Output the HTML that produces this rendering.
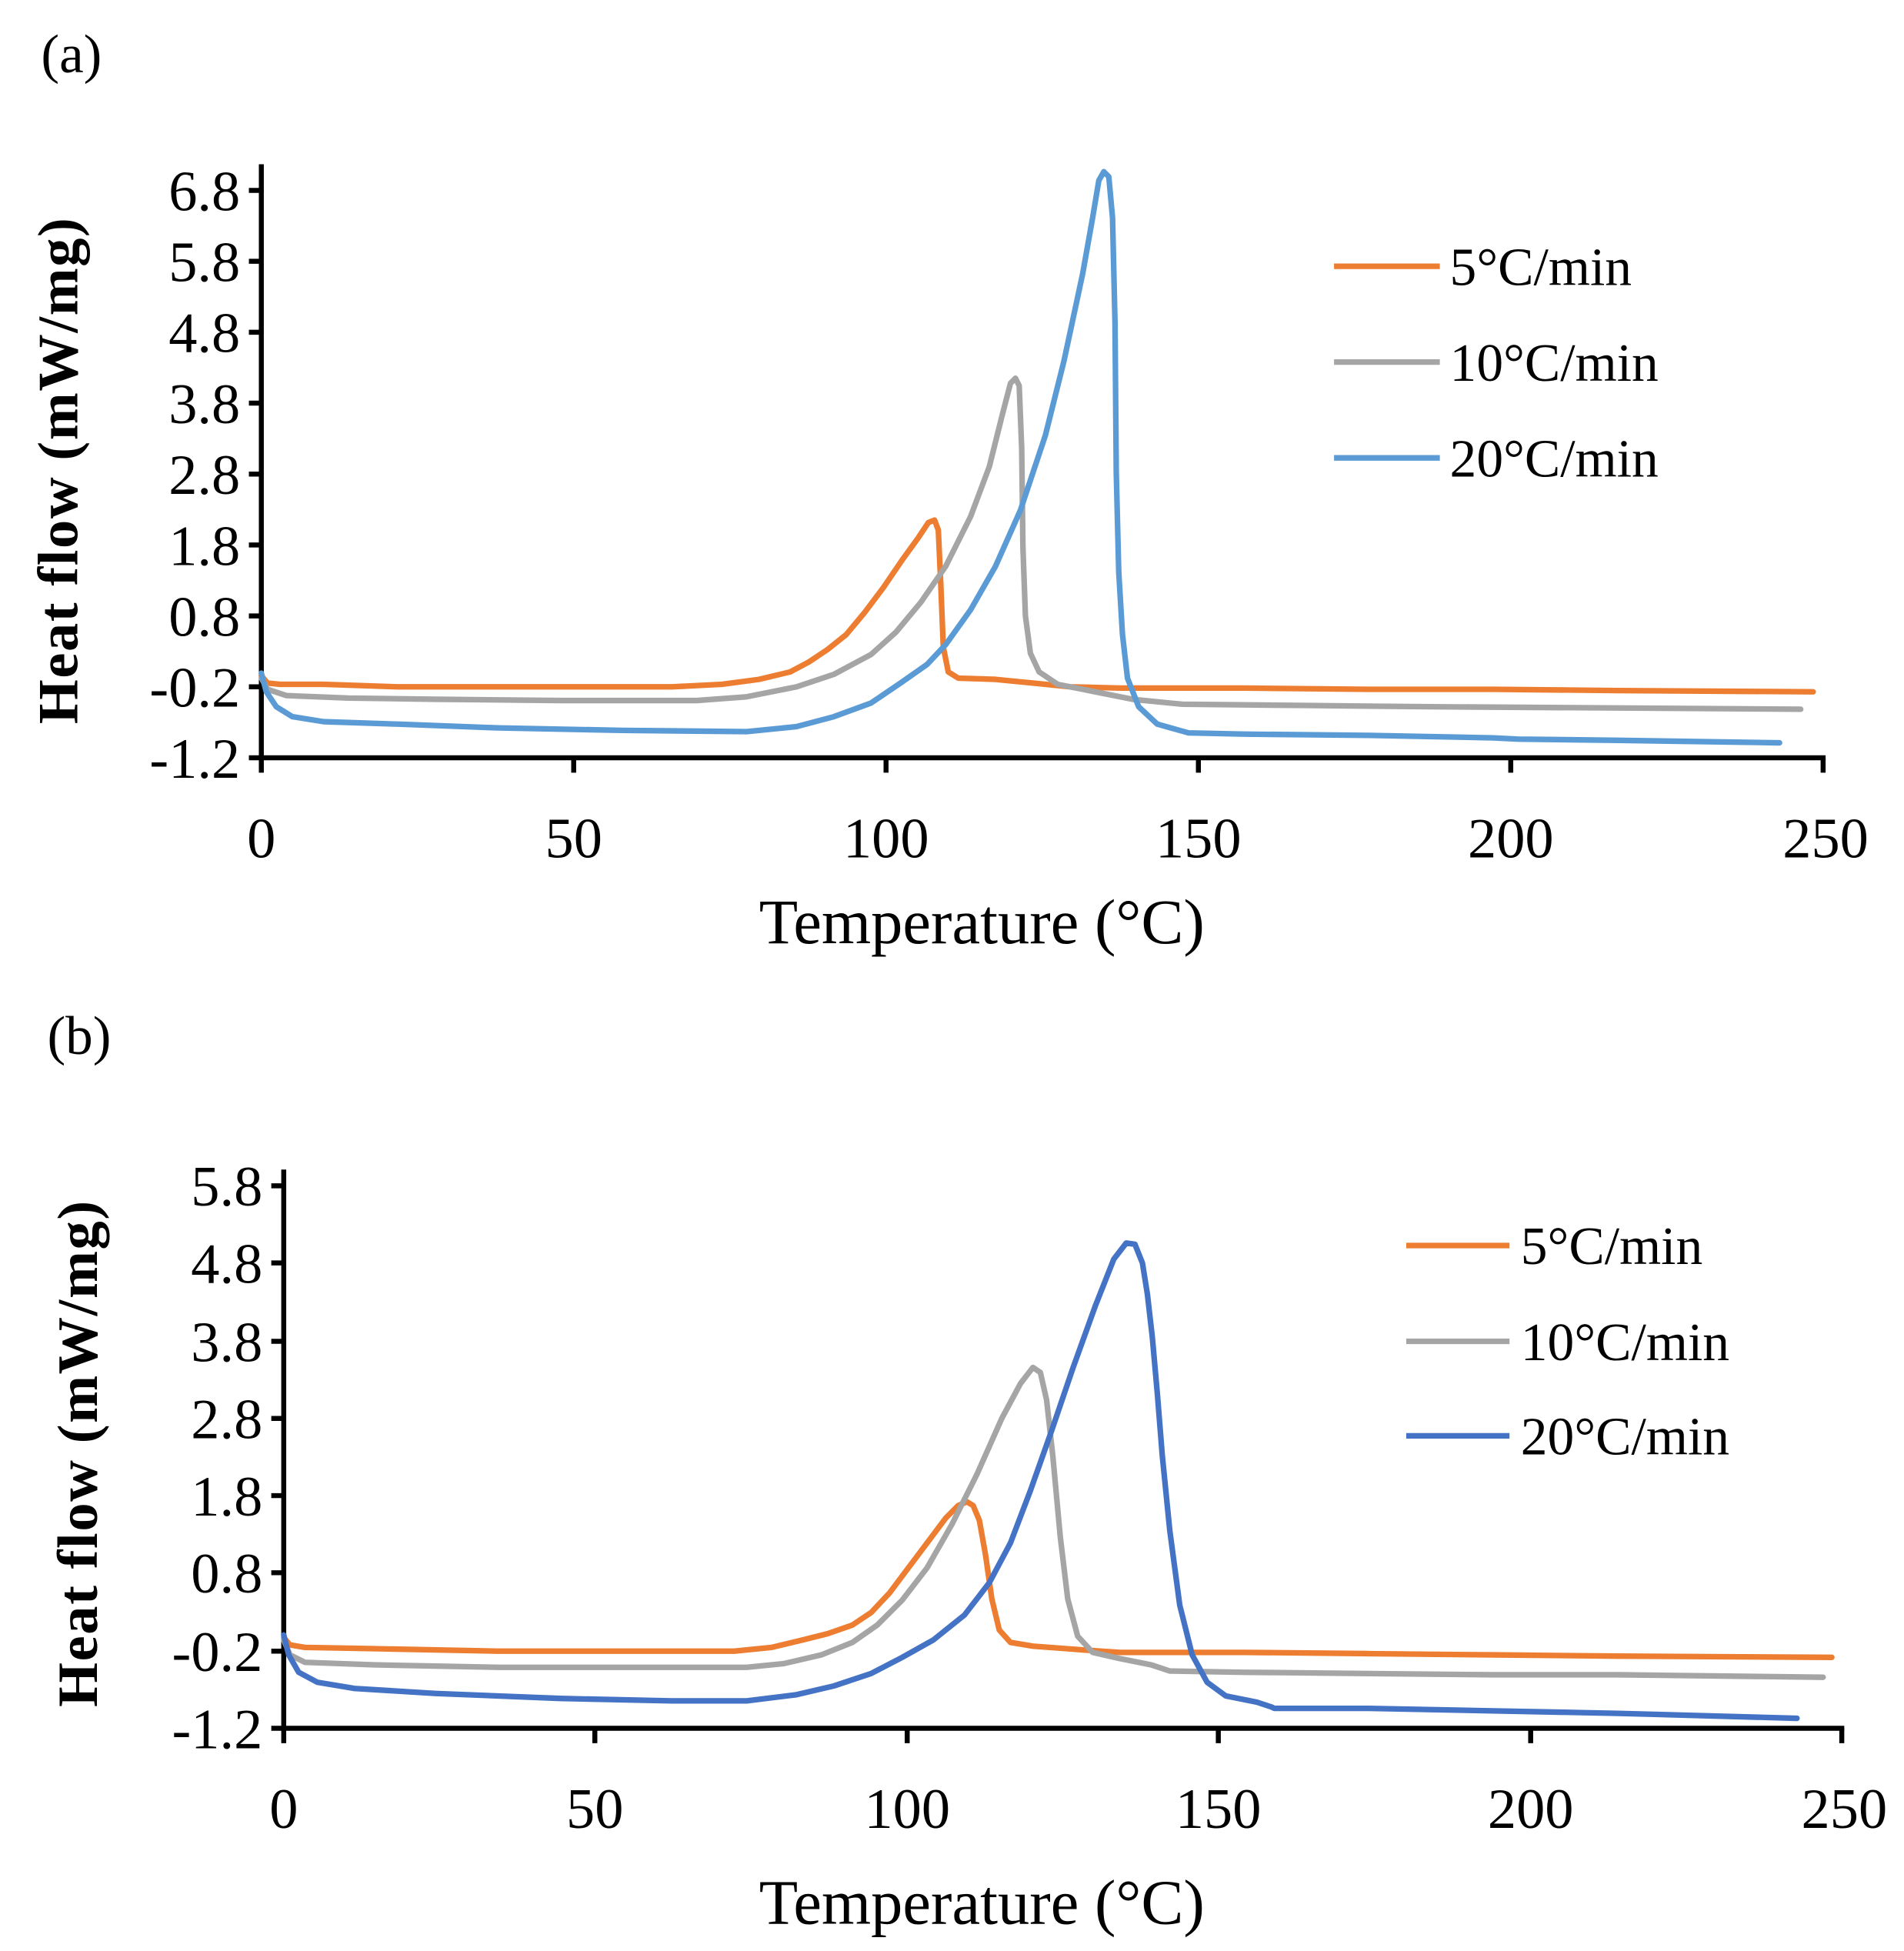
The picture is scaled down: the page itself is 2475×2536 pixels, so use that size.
<!DOCTYPE html>
<html><head><meta charset="utf-8"><style>
html,body{margin:0;padding:0;background:#fff;}
svg{display:block;}
text{font-family:"Liberation Serif",serif;fill:#000;}
</style></head><body>
<svg width="2475" height="2536" viewBox="0 0 1530 1568" preserveAspectRatio="none" xmlns="http://www.w3.org/2000/svg">
<rect width="1530" height="1568" fill="#fff"/>
<!-- Panel a -->
<text x="33" y="58" font-size="44">(a)</text>
<g stroke="#000" stroke-width="4" fill="none">
<line x1="210" y1="132" x2="210" y2="611"/>
<line x1="208" y1="609" x2="1467" y2="609"/>
<path d="M200 153H210M200 210H210M200 267H210M200 324H210M200 381H210M200 438H210M200 495H210M200 552H210M200 609H210"/>
<path d="M210 609V621M461 609V621M712 609V621M963 609V621M1214 609V621M1465 609V621"/>
</g>
<g font-size="46" text-anchor="end">
<text x="193" y="169">6.8</text><text x="193" y="226">5.8</text><text x="193" y="283">4.8</text><text x="193" y="340">3.8</text><text x="193" y="397">2.8</text><text x="193" y="454">1.8</text><text x="193" y="511">0.8</text><text x="193" y="568">-0.2</text><text x="193" y="625">-1.2</text>
</g>
<g font-size="46" text-anchor="middle">
<text x="210" y="689">0</text><text x="461" y="689">50</text><text x="712" y="689">100</text><text x="963" y="689">150</text><text x="1214" y="689">200</text><text x="1467" y="689">250</text>
</g>
<text x="789" y="758" font-size="51" text-anchor="middle">Temperature (°C)</text>
<text transform="translate(62,378) rotate(-90)" font-size="46" font-weight="bold" text-anchor="middle" letter-spacing="1">Heat flow (mW/mg)</text>
<g fill="none" stroke-width="4.5" stroke-linejoin="round" stroke-linecap="round">
<polyline stroke="#ED7D31" points="210,543 215,549 225,550 260,550 320,552 400,552 480,552 540,552 580,550 610,546 635,540 650,532 665,522 680,510 695,492 710,472 725,450 738,432 746,420 751,418 754,426 756,470 758,520 762,540 770,545 800,546 830,549 860,552 900,553 1000,553 1100,554 1200,554 1300,555 1457,556"/>
<polyline stroke="#A5A5A5" points="210,545 215,554 230,559 280,561 350,562 450,563 560,563 600,560 640,552 670,542 700,526 720,508 740,484 760,455 780,415 795,375 805,335 812,308 816,304 819,310 821,360 822,440 824,495 828,525 835,540 850,550 880,556 910,562 950,566 1050,567 1150,568 1300,569 1447,570"/>
<polyline stroke="#5B9BD5" points="210,541 214,556 222,568 235,576 260,580 320,582 400,585 500,587 600,588 640,584 670,576 700,565 725,548 745,534 760,518 780,490 800,455 820,410 840,350 855,290 870,220 878,175 883,145 887,138 891,142 894,175 896,260 897,380 899,460 902,510 906,545 915,568 930,582 955,589 1000,590 1100,591 1200,593 1220,594 1300,595 1430,597"/>
</g>
<g stroke-width="4.5" fill="none">
<line x1="1072" y1="214" x2="1157" y2="214" stroke="#ED7D31"/>
<line x1="1072" y1="291" x2="1157" y2="291" stroke="#A5A5A5"/>
<line x1="1072" y1="368" x2="1157" y2="368" stroke="#5B9BD5"/>
</g>
<g font-size="43">
<text x="1165" y="229">5°C/min</text><text x="1165" y="306">10°C/min</text><text x="1165" y="383">20°C/min</text>
</g>

<!-- Panel b -->
<text x="38" y="847" font-size="44">(b)</text>
<g stroke="#000" stroke-width="4" fill="none">
<line x1="228" y1="940" x2="228" y2="1391"/>
<line x1="226" y1="1389" x2="1482" y2="1389"/>
<path d="M218 953H228M218 1015H228M218 1078H228M218 1140H228M218 1202H228M218 1264H228M218 1327H228M218 1389H228"/>
<path d="M228 1389V1401M478 1389V1401M729 1389V1401M979 1389V1401M1230 1389V1401M1480 1389V1401"/>
</g>
<g font-size="46" text-anchor="end">
<text x="211" y="969">5.8</text><text x="211" y="1031">4.8</text><text x="211" y="1094">3.8</text><text x="211" y="1156">2.8</text><text x="211" y="1218">1.8</text><text x="211" y="1280">0.8</text><text x="211" y="1343">-0.2</text><text x="211" y="1405">-1.2</text>
</g>
<g font-size="46" text-anchor="middle">
<text x="228" y="1469">0</text><text x="478" y="1469">50</text><text x="729" y="1469">100</text><text x="979" y="1469">150</text><text x="1230" y="1469">200</text><text x="1482" y="1469">250</text>
</g>
<text x="789" y="1546" font-size="51" text-anchor="middle">Temperature (°C)</text>
<text transform="translate(78,1168) rotate(-90)" font-size="46" font-weight="bold" text-anchor="middle" letter-spacing="1">Heat flow (mW/mg)</text>
<g fill="none" stroke-width="4.5" stroke-linejoin="round" stroke-linecap="round">
<polyline stroke="#ED7D31" points="228,1316 233,1322 245,1324 300,1325 400,1327 500,1327 590,1327 620,1324 645,1318 665,1313 685,1306 700,1296 715,1280 730,1260 745,1240 760,1220 770,1210 777,1207 782,1210 787,1222 792,1250 797,1285 803,1310 812,1320 830,1323 870,1326 900,1328 1000,1328 1100,1329 1200,1330 1300,1331 1472,1332"/>
<polyline stroke="#A5A5A5" points="228,1318 233,1330 245,1336 300,1338 400,1340 500,1340 600,1340 630,1337 660,1330 685,1320 705,1306 725,1286 745,1260 765,1225 785,1185 805,1140 820,1112 830,1099 836,1103 841,1125 846,1170 852,1235 858,1285 866,1315 878,1328 900,1333 925,1338 940,1343 1000,1344 1100,1345 1200,1346 1300,1346 1465,1348"/>
<polyline stroke="#4472C4" points="228,1314 232,1330 240,1344 255,1352 285,1357 350,1361 450,1365 540,1367 600,1367 640,1362 670,1355 700,1345 725,1332 750,1318 775,1298 795,1272 812,1240 828,1198 845,1150 862,1100 880,1050 895,1012 905,999 912,1000 918,1015 922,1040 926,1075 930,1120 934,1170 940,1230 948,1290 958,1330 970,1352 985,1363 1010,1368 1022,1372 1024,1373 1100,1373 1200,1375 1300,1377 1444,1381"/>
</g>
<g stroke-width="4.5" fill="none">
<line x1="1130" y1="1001" x2="1213" y2="1001" stroke="#ED7D31"/>
<line x1="1130" y1="1078" x2="1213" y2="1078" stroke="#A5A5A5"/>
<line x1="1130" y1="1154" x2="1213" y2="1154" stroke="#4472C4"/>
</g>
<g font-size="43">
<text x="1222" y="1016">5°C/min</text><text x="1222" y="1093">10°C/min</text><text x="1222" y="1169">20°C/min</text>
</g>
</svg>
</body></html>
